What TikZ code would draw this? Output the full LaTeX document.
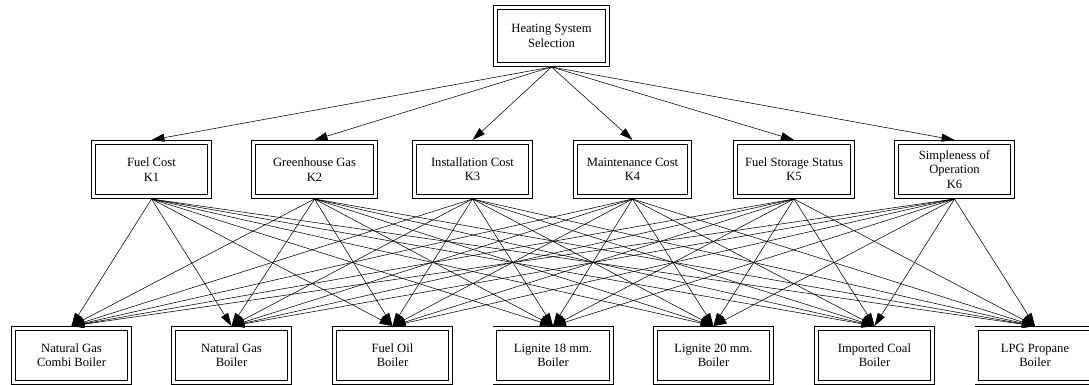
\documentclass[tikz,border=0pt]{standalone}
\usepackage{fontspec}
\setmainfont{Liberation Serif}
\usetikzlibrary{arrows.meta}
\tikzset{
  box/.style={draw=black, double=white, double distance=3.2pt, line width=0.7pt,
    outer sep=2.3pt, inner sep=1pt, align=center, font=\fontsize{12.6}{14.3}\selectfont,
    minimum height=54.4pt},
  edge/.style={line width=0.55pt, -{Triangle[length=13pt,width=8pt]}}
}
\begin{document}
\begin{tikzpicture}[x=1pt,y=1pt]
\useasboundingbox[fill=white] (0,0) rectangle (1089,385);
\node[box, minimum width=112.4pt, minimum height=57.4pt] (top) at (551.5,349) {Heating System\\Selection};
\node[box, minimum width=116.4pt] (m1) at (151.5,215.5) {Fuel Cost\\K1};
\node[box, minimum width=122.4pt] (m2) at (314.5,215.5) {Greenhouse Gas\\K2};
\node[box, minimum width=116.4pt] (m3) at (472.5,215.5) {Installation Cost\\K3};
\node[box, minimum width=114.4pt] (m4) at (632.5,215.5) {Maintenance Cost\\K4};
\node[box, minimum width=117.4pt] (m5) at (794,215.5) {Fuel Storage Status\\K5};
\node[box, minimum width=116.4pt] (m6) at (954.5,215.5) {Simpleness of\\Operation\\K6};
\node[box, minimum width=116.4pt] (b1) at (71.5,29.5) {Natural Gas\\Combi Boiler};
\node[box, minimum width=116.4pt] (b2) at (231.5,29.5) {Natural Gas\\Boiler};
\node[box, minimum width=116.4pt] (b3) at (392.5,29.5) {Fuel Oil\\Boiler};
\node[box, minimum width=116.4pt] (b4) at (553,29.5) {Lignite 18 mm.\\Boiler};
\node[box, minimum width=116.4pt] (b5) at (713.5,29.5) {Lignite 20 mm.\\Boiler};
\node[box, minimum width=116.4pt] (b6) at (874.5,29.5) {Imported Coal\\Boiler};
\node[box, minimum width=116.4pt] (b7) at (1035,29.5) {LPG Propane\\Boiler};
\foreach \m in {1,...,6} {
  \draw[edge] (top.south) -- (m\m.north);
  \foreach \b in {1,...,7} {
    \draw[edge] (m\m.south) -- (b\b.north);
  }
}
\end{tikzpicture}
\end{document}
